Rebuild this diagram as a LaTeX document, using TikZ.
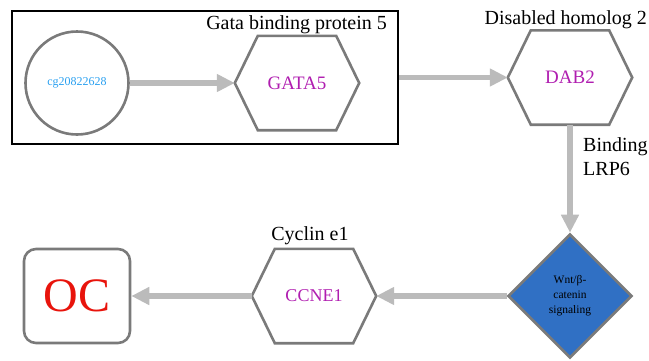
\documentclass[tikz,border=0pt]{standalone}
\usepackage{fontspec}
\setmainfont{Liberation Serif}
\usetikzlibrary{arrows.meta,shapes.geometric}
\definecolor{edgegray}{HTML}{7A7A7A}
\definecolor{arrowgray}{HTML}{BBBBBB}
\definecolor{genemag}{HTML}{B01EB0}
\definecolor{cgblue}{HTML}{2AA0F0}
\definecolor{ocred}{HTML}{E8140C}
\definecolor{wntblue}{HTML}{3070C4}
\tikzset{
  hexbox/.style={rectangle,draw=none,minimum width=124pt,minimum height=94pt,inner sep=0pt,text=genemag},
  hexline/.style={draw=edgegray,line width=2.6pt,line join=miter},
  flow/.style={draw=arrowgray,line width=5.5pt,-{Triangle[length=18pt,width=17pt]}},
  lbl/.style={font=\fontsize{20}{24}\selectfont,inner sep=0pt}
}
\newcommand{\hexshape}[1]{%
  \draw[hexline] (#1.west) -- ([xshift=23pt]#1.north west) -- ([xshift=-23pt]#1.north east)
    -- (#1.east) -- ([xshift=-23pt]#1.south east) -- ([xshift=23pt]#1.south west) -- cycle;}
\begin{document}
\begin{tikzpicture}[x=1pt,y=-1pt]
\useasboundingbox (0,0) rectangle (649,360);
% group box
\node[draw=black,line width=2pt,minimum width=386pt,minimum height=133pt,inner sep=0pt] (box) at (205,77.5) {};
\node[lbl,anchor=base east] (gatalbl) at (387,29) {Gata binding protein 5};
% cg node
\node[circle,draw=edgegray,line width=2.6pt,minimum size=103pt,inner sep=0pt,text=cgblue,font=\fontsize{12}{14}\selectfont] (cg) at (77,83) {cg20822628};
% GATA5
\node[hexbox,font=\fontsize{19}{22}\selectfont] (gata) at (297,83) {GATA5};
\hexshape{gata}
% DAB2
\node[hexbox,font=\fontsize{19}{22}\selectfont] (dab) at (570,77.5) {DAB2};
\hexshape{dab}
\node[lbl,anchor=base east] (dablbl) at (647,24) {Disabled homolog 2};
% Wnt diamond
\node[diamond,draw=edgegray,fill=wntblue,line width=2.6pt,minimum width=124pt,minimum height=124pt,inner sep=0pt,align=center,font=\fontsize{11.5}{15}\selectfont] (wnt) at (570,296) {Wnt/β-\\catenin\\signaling};
\node[lbl,anchor=base west,align=left] (bindlbl) at (583,175) {Binding\\LRP6};
% CCNE1
\node[hexbox,font=\fontsize{18}{22}\selectfont] (ccne) at (314,296) {CCNE1};
\hexshape{ccne}
\node[lbl,anchor=base] (ccnelbl) at (310,240) {Cyclin e1};
% OC
\node[rectangle,rounded corners=12pt,draw=edgegray,line width=2.6pt,minimum width=106pt,minimum height=94pt,inner sep=0pt,text=ocred,font=\fontsize{48}{56}\selectfont] (oc) at (77,296) {OC};
% connectors
\draw[flow] (cg.east) -- (gata.west);
\draw[flow] (box.east |- dab.west) -- (dab.west);
\draw[flow] (dab.south) -- (wnt.north);
\draw[flow] (wnt.west) -- (ccne.east);
\draw[flow] (ccne.west) -- (oc.east);
\end{tikzpicture}
\end{document}
